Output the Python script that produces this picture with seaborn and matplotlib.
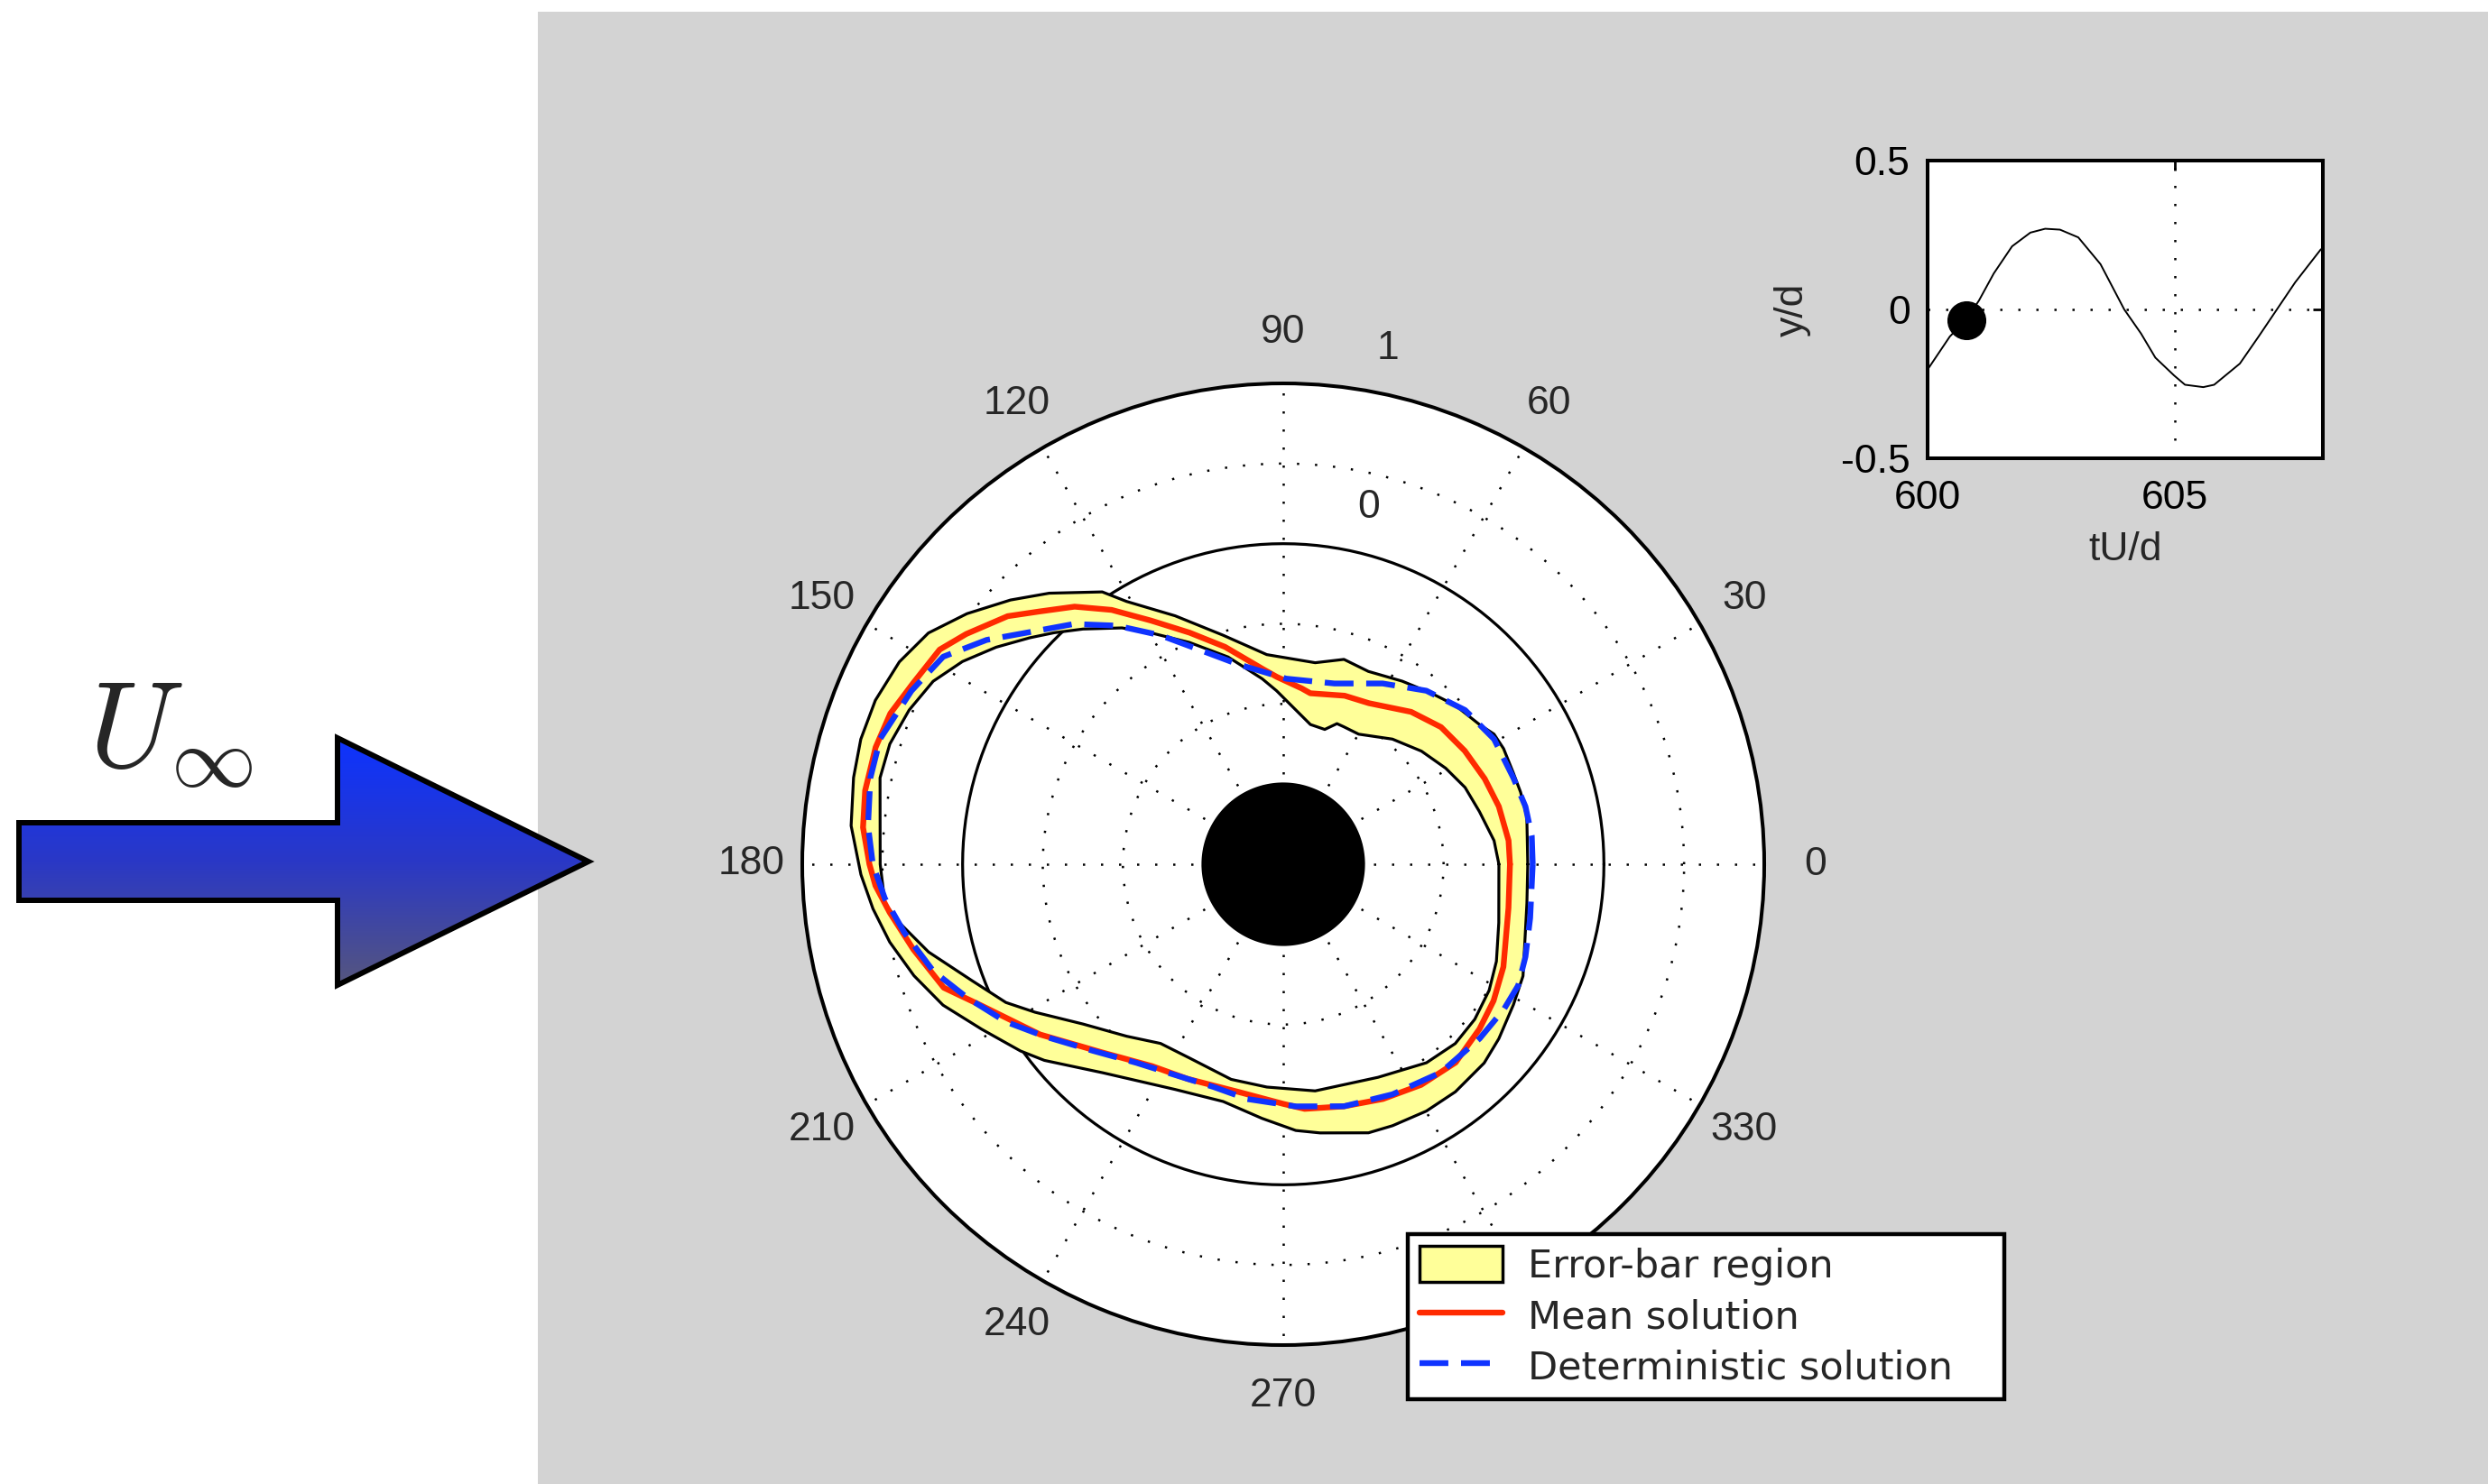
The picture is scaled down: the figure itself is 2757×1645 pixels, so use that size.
import numpy as np
import matplotlib
matplotlib.use("Agg")
import matplotlib.pyplot as plt
import seaborn as sns
from matplotlib.patches import Polygon, Patch, Rectangle
from matplotlib.lines import Line2D
from matplotlib.colors import LinearSegmentedColormap

# ---------------- data ----------------
# Surface pressure around the cylinder (angle in degrees, Cp)
MEAN_THETA = [0, 6, 15, 23, 32, 41, 50, 62, 70, 81, 84, 92, 96, 105, 112, 118.5,
              124, 129, 134, 138, 144, 148, 154, 159, 164, 170, 175, 180, 183, 187,
              193, 200, 205, 215, 226, 237, 246, 259, 270, 275, 284, 293, 302, 311,
              320, 327, 335, 349]
MEAN_CP = [-0.586, -0.587, -0.608, -0.635, -0.665, -0.696, -0.759, -0.862, -0.881,
           -0.920, -0.897, -0.830, -0.775, -0.596, -0.442, -0.270, -0.086, 0.068,
           0.192, 0.313, 0.444, 0.527, 0.571, 0.625, 0.645, 0.648, 0.631, 0.581,
           0.547, 0.473, 0.367, 0.253, 0.082, -0.148, -0.369, -0.498, -0.534, -0.552,
           -0.505, -0.468, -0.443, -0.409, -0.377, -0.361, -0.402, -0.436, -0.485,
           -0.569]

DET_THETA = [0, 6.5, 13.4, 20.6, 30.7, 40.3, 50.5, 61.2, 74.2, 89.1, 102.8, 111.4,
             118.2, 124.9, 131.1, 137.5, 142.9, 148.6, 155, 162.7, 168.2, 174.7, 180,
             184.9, 190.2, 197, 202.9, 209.6, 215.8, 224.4, 233.5, 242.8, 252.7, 261.3,
             273, 284.1, 295.4, 307.1, 318.4, 326.6, 332.7, 339.1, 347.7]
DET_CP = [-0.444, -0.440, -0.447, -0.467, -0.471, -0.513, -0.597, -0.713, -0.828,
          -0.842, -0.720, -0.562, -0.379, -0.185, -0.011, 0.144, 0.320, 0.485, 0.559,
          0.633, 0.631, 0.601, 0.560, 0.494, 0.402, 0.282, 0.140, -0.010, -0.164,
          -0.337, -0.459, -0.522, -0.544, -0.518, -0.487, -0.443, -0.411, -0.371,
          -0.362, -0.353, -0.351, -0.383, -0.424]

LOW_THETA = [0, 6.4, 15, 22.9, 30.6, 39.3, 48.9, 59.9, 66.1, 69.1, 72.9, 79, 85.3,
             92.2, 96.5, 104.9, 112.9, 119.8, 124.3, 130.4, 134.7, 138.2, 142.9, 147.7,
             152.4, 157.6, 163, 167.9, 171.9, 180, 185.6, 188.7, 193.9, 200.5, 206.5,
             210.8, 218.6, 227.7, 235.6, 244.2, 256.4, 265.8, 278, 294, 305.8, 313.8,
             321, 328.5, 335.5, 344.8]
LOW_CP = [-0.655, -0.677, -0.733, -0.769, -0.823, -0.886, -0.964, -1.062, -1.063,
          -1.061, -1.120, -1.112, -1.035, -0.917, -0.835, -0.662, -0.498, -0.336,
          -0.215, -0.073, 0.032, 0.120, 0.245, 0.367, 0.464, 0.524, 0.566, 0.572,
          0.540, 0.514, 0.496, 0.421, 0.279, 0.073, -0.067, -0.197, -0.402, -0.549,
          -0.645, -0.657, -0.619, -0.606, -0.572, -0.545, -0.473, -0.450, -0.463,
          -0.494, -0.539, -0.607]

UP_THETA = [0, 11.1, 16.9, 21.7, 27.7, 31.7, 35.4, 42.7, 49.2, 57, 66.2, 73.5, 81,
            94.5, 104.7, 113.5, 120.8, 123.6, 130.8, 135.9, 141.6, 146.9, 152.2, 158.1,
            163.5, 168.6, 174.9, 181.4, 186.2, 191.2, 196.8, 202.5, 208.7, 215.4, 219.4,
            229.1, 244.3, 255.8, 265.2, 272.7, 277.8, 287.6, 292.7, 300.1, 307.1, 315.3,
            321, 328.6, 335, 350.9]
UP_CP = [-0.475, -0.452, -0.453, -0.456, -0.448, -0.455, -0.497, -0.539, -0.589,
         -0.638, -0.685, -0.667, -0.727, -0.688, -0.523, -0.310, -0.091, 0.040, 0.234,
         0.369, 0.517, 0.642, 0.707, 0.742, 0.748, 0.734, 0.706, 0.635, 0.574, 0.502,
         0.406, 0.297, 0.144, 0.011, -0.072, -0.279, -0.441, -0.473, -0.409, -0.337,
         -0.308, -0.242, -0.232, -0.220, -0.220, -0.237, -0.270, -0.318, -0.350,
         -0.461]

R_MIN, R_MAX = -2.0, 1.0
CYL_EDGE = -1.49
RING_VALUES = [-1.5, -1.0, -0.5, 0.5]
ANGLE_TICKS = list(range(0, 360, 30))
# the 300 label sits under the legend box, so it is left out
ANGLE_LABELS = [a for a in ANGLE_TICKS if a != 300]

# Cross-flow displacement history of the cylinder
T_HIST = [600.0, 600.45, 600.78, 601.04, 601.34, 601.71, 602.08, 602.38, 602.68,
          603.05, 603.5, 603.98, 604.32, 604.61, 604.99, 605.21, 605.58, 605.8,
          606.32, 606.7, 607.07, 607.44, 607.96]
Y_HIST = [-0.202, -0.091, -0.035, 0.03, 0.121, 0.212, 0.258, 0.271, 0.268, 0.242,
          0.152, 0.0, -0.081, -0.162, -0.222, -0.253, -0.261, -0.253, -0.182, -0.091,
          0.0, 0.091, 0.202]
T_NOW, Y_NOW = 600.78, -0.035

LEGEND_LABELS = ["Error-bar region", "Mean solution", "Deterministic solution"]

# ---------------- style ----------------
YELLOW = "#FFFF99"
RED = "#FF2A00"
BLUE = "#0F33FF"
GREY = "#D3D3D3"
DOTS = (0, (1, 7))

sns.set_style("white")
plt.rcParams["font.family"] = ["Liberation Sans", "DejaVu Sans"]
plt.rcParams["mathtext.fontset"] = "cm"
plt.rcParams["axes.unicode_minus"] = False

W, H = 2757, 1645
fig = plt.figure(figsize=(W / 100, H / 100), dpi=100)
fig.patch.set_facecolor("white")
fig.add_artist(Rectangle((596 / W, 0), 1 - 596 / W, 1 - 13 / H,
                         transform=fig.transFigure, facecolor=GREY,
                         edgecolor="none", zorder=-5))

# ---------------- polar plot ----------------
cx, cy, R = 1422, 958, 533
pax = fig.add_axes([(cx - R) / W, 1 - (cy + R) / H, 2 * R / W, 2 * R / H],
                   projection="polar")
pax.set_facecolor("white")
pax.set_xticks(np.deg2rad(ANGLE_TICKS))
pax.set_xticklabels([])
pax.set_yticks(RING_VALUES)
pax.set_yticklabels([])
pax.tick_params(length=0)
pax.grid(True, color="k", linestyle=DOTS, linewidth=1.8)
pax.set_axisbelow(True)
pax.spines["polar"].set_linewidth(2.9)
pax.spines["polar"].set_color("k")

circ = np.linspace(0, 2 * np.pi, 361)
pax.plot(circ, np.zeros_like(circ), color="k", lw=2.3, zorder=1.5)


def closed(theta, vals):
    return np.deg2rad(list(theta) + [360]), np.array(list(vals) + [vals[0]])


up_t, up_r = closed(UP_THETA, UP_CP)
lo_t, lo_r = closed(LOW_THETA, LOW_CP)
pax.fill(np.concatenate([up_t, lo_t[::-1]]), np.concatenate([up_r, lo_r[::-1]]),
         color=YELLOW, lw=0, zorder=2)
pax.plot(up_t, up_r, color="k", lw=2.3, zorder=3)
pax.plot(lo_t, lo_r, color="k", lw=2.3, zorder=3)

m_t, m_r = closed(MEAN_THETA, MEAN_CP)
d_t, d_r = closed(DET_THETA, DET_CP)
sns.lineplot(x=m_t, y=m_r, sort=False, estimator=None, color=RED, lw=4.6,
             ax=pax, zorder=4)
sns.lineplot(x=d_t, y=d_r, sort=False, estimator=None, color=BLUE, lw=4.6,
             ax=pax, zorder=4.5)
pax.lines[-1].set_linestyle((0, (5, 2.2)))

pax.fill(circ, np.full_like(circ, CYL_EDGE), color="k", lw=0, zorder=5)

pax.set_ylim(R_MIN, R_MAX)
pax.set_xlabel("")
pax.set_ylabel("")

for a in ANGLE_LABELS:
    pax.text(np.deg2rad(a), 1.32, str(a), ha="center", va="center",
             fontsize=32, clip_on=False)
pax.text(np.deg2rad(76.5), 0.29, "0", ha="center", va="center", fontsize=32)
pax.text(np.deg2rad(78.5), 1.28, "1", ha="center", va="center", fontsize=32,
         clip_on=False)

# ---------------- displacement inset ----------------
iax = fig.add_axes([2136 / W, 1 - 508 / H, 438 / W, 330 / H])
iax.set_facecolor("white")
sns.lineplot(x=T_HIST, y=Y_HIST, sort=False, estimator=None, color="k", lw=1.4,
             ax=iax)
iax.plot([T_NOW], [Y_NOW], "o", color="k", ms=30, zorder=5)
iax.set_xlim(600, 608)
iax.set_ylim(-0.5, 0.5)
iax.set_xticks([600, 605])
iax.set_xticklabels(["600", "605"])
iax.set_yticks([-0.5, 0, 0.5])
iax.set_yticklabels(["-0.5", "0", "0.5"])
iax.grid(True, color="k", linestyle=DOTS, linewidth=1.8)
iax.tick_params(direction="in", length=8, width=2, top=True, right=True,
                labelsize=32, colors="k")
iax.tick_params(axis="x", pad=17)
iax.tick_params(axis="y", pad=14)
for s in iax.spines.values():
    s.set_linewidth(2.9)
    s.set_color("k")
    s.set_visible(True)
iax.set_xlabel("tU/d", fontsize=32, labelpad=12)
iax.set_ylabel("y/d", fontsize=32, labelpad=24)

# ---------------- legend ----------------
handles = [Patch(facecolor=YELLOW, edgecolor="k", lw=2.5),
           Line2D([], [], color=RED, lw=4.6),
           Line2D([], [], color=BLUE, lw=4.6, linestyle=(0, (5, 2.2)))]
leg = fig.legend(handles, LEGEND_LABELS, loc="upper left",
                 bbox_to_anchor=(1560 / W, 1 - 1553 / H, 661 / W, 185 / H),
                 mode="expand", borderaxespad=0, fancybox=False, framealpha=1,
                 edgecolor="k", prop={"family": "DejaVu Sans", "size": 31},
                 handlelength=2.14, handleheight=1.05, handletextpad=0.65,
                 borderpad=0.3, labelspacing=0.3)
leg.get_frame().set_linewidth(3.2)

# ---------------- free-stream arrow ----------------
oax = fig.add_axes([0, 0, 1, 1], zorder=10)
oax.set_xlim(0, W)
oax.set_ylim(H, 0)
oax.axis("off")
arrow_xy = [(21, 912), (374, 912), (374, 818), (652, 955), (374, 1092),
            (374, 998), (21, 998)]
flow_cmap = LinearSegmentedColormap.from_list("flow", ["#0D33FF", "#2A38C6", "#56567E"])
img = oax.imshow(np.linspace(0, 1, 256)[:, None], cmap=flow_cmap,
                 extent=(21, 652, 1092, 818), aspect="auto", zorder=1)
img.set_clip_path(Polygon(arrow_xy, closed=True, transform=oax.transData))
oax.add_patch(Polygon(arrow_xy, closed=True, facecolor="none", edgecolor="k",
                      lw=4.3, joinstyle="miter", zorder=2))
oax.text(98, 850, r"$U_\infty$", fontsize=97, ha="left", va="baseline")
oax.set_xlim(0, W)
oax.set_ylim(H, 0)

fig.savefig("out.png", dpi=100, facecolor="white")
